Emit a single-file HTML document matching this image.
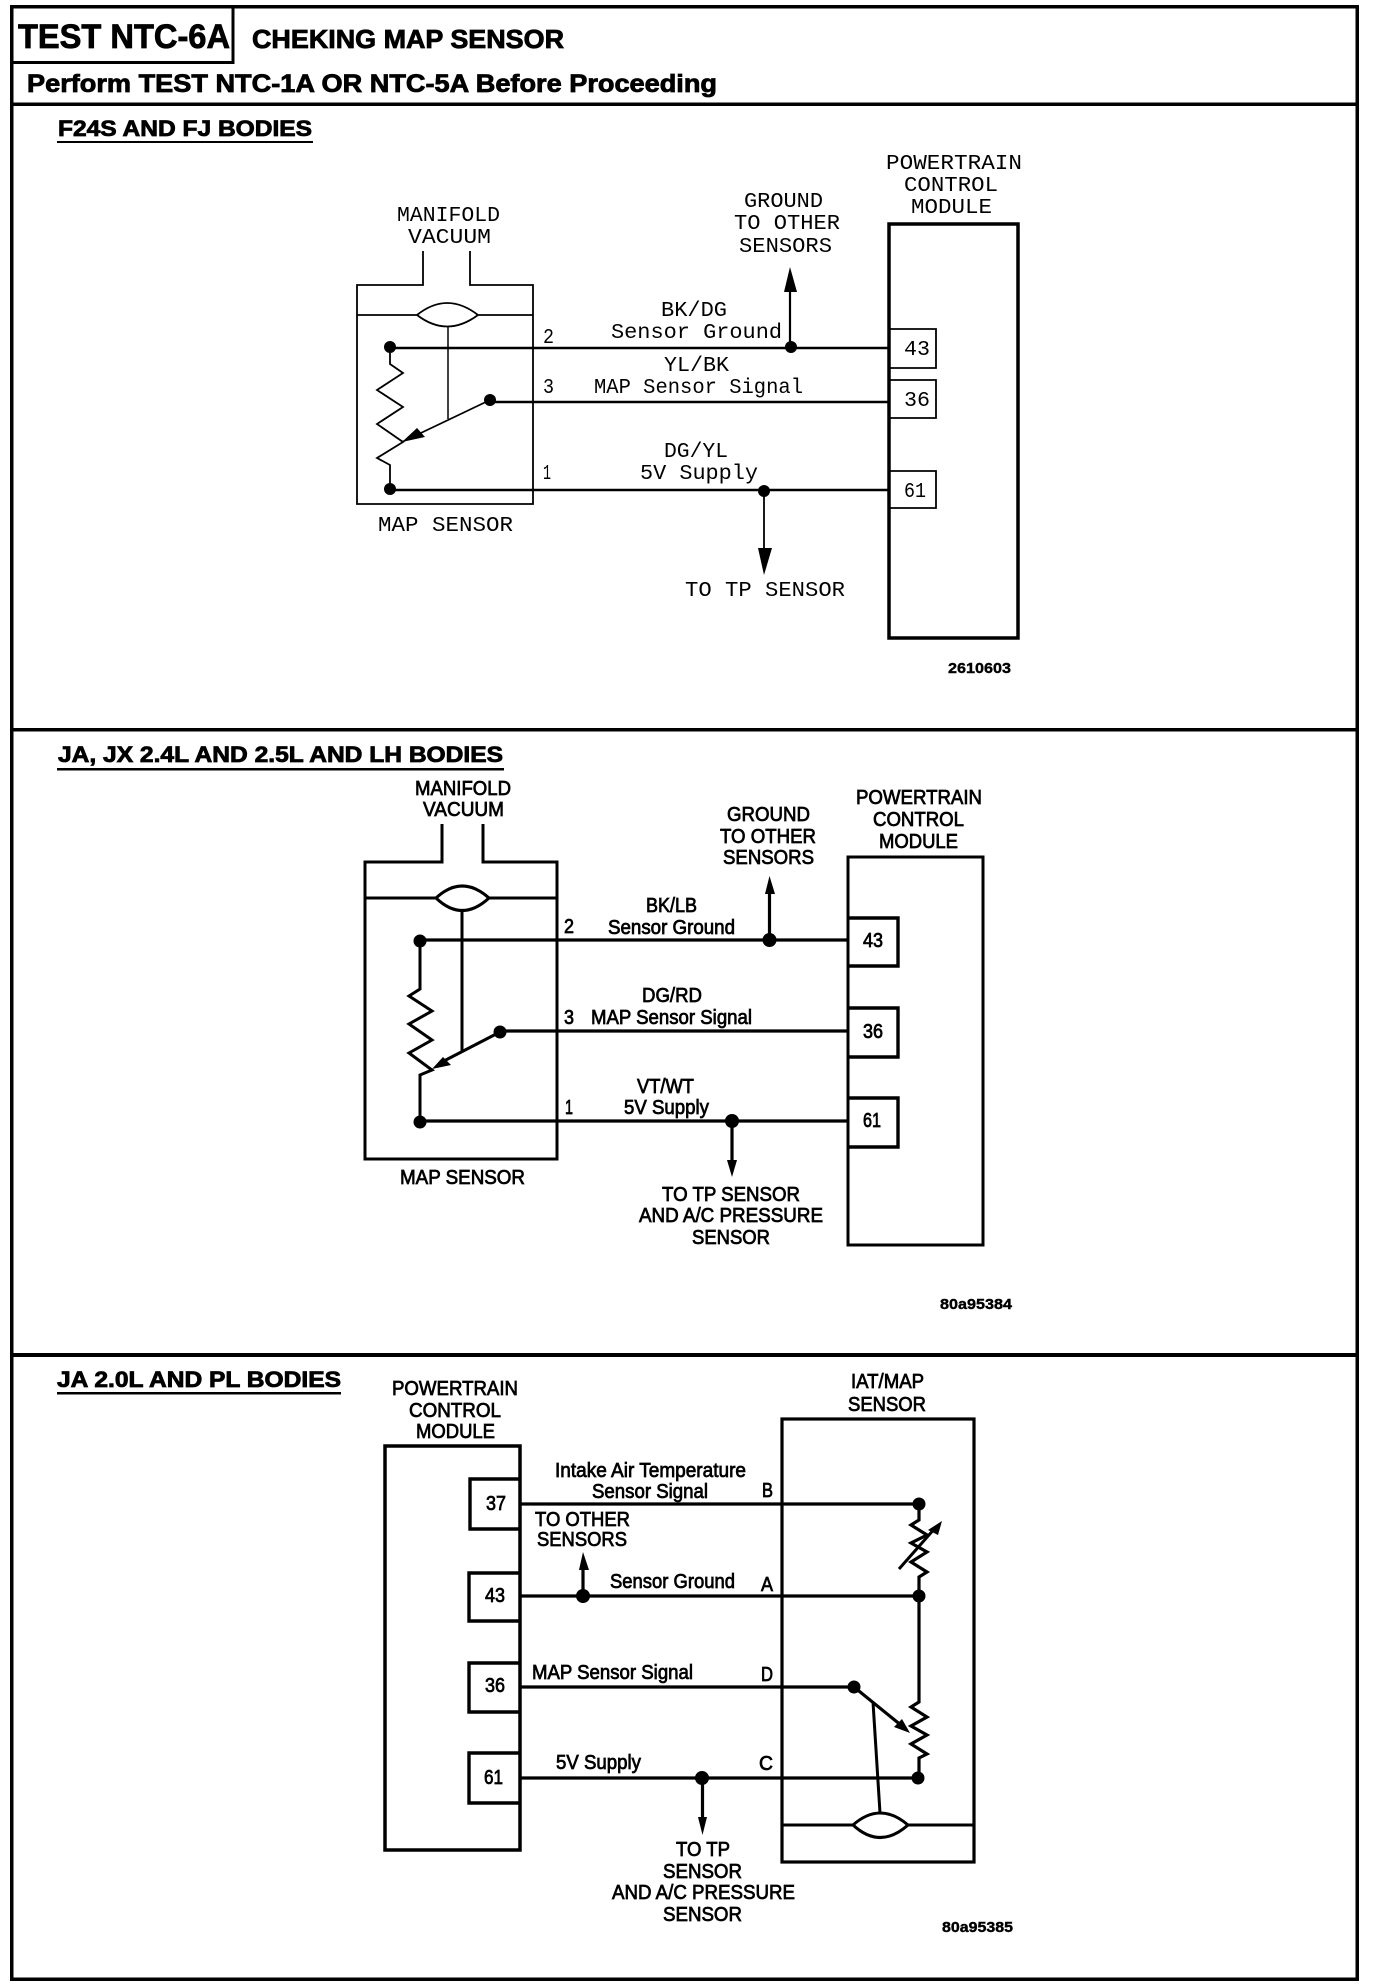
<!DOCTYPE html>
<html><head><meta charset="utf-8"><title>TEST NTC-6A</title>
<style>
html,body{margin:0;padding:0;background:#fff}
svg{display:block}
text{fill:#000}
.b{font-family:"Liberation Sans",sans-serif;font-weight:bold;stroke:#000;stroke-width:.8px}
.m{font-family:"Liberation Mono",monospace;font-size:21px}
.s{font-family:"Liberation Sans",sans-serif;font-size:20px;stroke:#000;stroke-width:.75px}
.n{font-family:"Liberation Sans",sans-serif;font-weight:bold;font-size:15px;stroke:#000;stroke-width:.4px}
.l{fill:none;stroke:#000;stroke-linejoin:miter}
</style></head><body>
<svg xmlns="http://www.w3.org/2000/svg" width="1376" height="1988" viewBox="0 0 1376 1988">
<rect width="1376" height="1988" fill="#fff"/>

<!-- frame -->
<g class="l" shape-rendering="crispEdges">
<rect x="11.5" y="6.5" width="1345.5" height="1972.5" stroke-width="3.5"/>
<path d="M233 7V62.5H11" stroke-width="3"/>
<path d="M11 104H1357" stroke-width="3.5"/>
<path d="M11 729.5H1357" stroke-width="3.5"/>
<path d="M11 1355H1357" stroke-width="4"/>
<path d="M57 142H313" stroke-width="2"/>
<path d="M57 769H504" stroke-width="2.5"/>
<path d="M57 1393H341" stroke-width="2.5"/>
</g>

<text class="b" x="18" y="48" font-size="34" textLength="212" lengthAdjust="spacingAndGlyphs">TEST NTC-6A</text>
<text class="b" x="252" y="48" font-size="26" textLength="312" lengthAdjust="spacingAndGlyphs">CHEKING MAP SENSOR</text>
<text class="b" x="27" y="92" font-size="25" textLength="690" lengthAdjust="spacingAndGlyphs">Perform TEST NTC-1A OR NTC-5A Before Proceeding</text>
<text class="b" x="58" y="136" font-size="22" textLength="254" lengthAdjust="spacingAndGlyphs">F24S AND FJ BODIES</text>
<text class="b" x="58" y="762" font-size="22" textLength="445" lengthAdjust="spacingAndGlyphs">JA, JX 2.4L AND 2.5L AND LH BODIES</text>
<text class="b" x="57" y="1387" font-size="22" textLength="284" lengthAdjust="spacingAndGlyphs">JA 2.0L AND PL BODIES</text>

<!-- SECTION 1 -->
<g class="l">
<path d="M423 251V285H357V504H533V285H470V251" stroke-width="1.8"/>
<path d="M357 315H417Q447 291 478 315H533M417 315Q447 338 478 315" stroke-width="1.8"/>
<path d="M448 326V419" stroke-width="1.5"/>
<path d="M390 348H889M490 402H889M390 490H889" stroke-width="2.4"/>
<path d="M390 347V364L403 373L377 390L403 407L377 424L403 442L377 458L390 465V489" stroke-width="1.8"/>
<path d="M490 400L402 442" stroke-width="1.8"/>
<path d="M790 347V285" stroke-width="2.2"/>
<path d="M764 491V555" stroke-width="1.8"/>
<rect x="889" y="224" width="129" height="414" stroke-width="3.5"/>
<path d="M889 329H936V368H889M889 380H936V418H889M889 471H936V508H889" stroke-width="1.8"/>
</g>
<path d="M402 442L417 428L425 437Z"/>
<path d="M790 267L797 292H784Z"/>
<path d="M764 575L772 548H758Z"/>
<circle cx="390" cy="347" r="6"/><circle cx="490" cy="400" r="6"/><circle cx="390" cy="489" r="6"/><circle cx="791" cy="347" r="6"/><circle cx="764" cy="491" r="6"/>

<g class="m">
<text x="397" y="221" textLength="103" lengthAdjust="spacingAndGlyphs">MANIFOLD</text>
<text x="408" y="243" textLength="83" lengthAdjust="spacingAndGlyphs">VACUUM</text>
<text x="744" y="207" textLength="79" lengthAdjust="spacingAndGlyphs">GROUND</text>
<text x="734" y="229" textLength="106" lengthAdjust="spacingAndGlyphs">TO OTHER</text>
<text x="739" y="252" textLength="93" lengthAdjust="spacingAndGlyphs">SENSORS</text>
<text x="886" y="169" textLength="136" lengthAdjust="spacingAndGlyphs">POWERTRAIN</text>
<text x="904" y="191" textLength="94" lengthAdjust="spacingAndGlyphs">CONTROL</text>
<text x="911" y="213" textLength="81" lengthAdjust="spacingAndGlyphs">MODULE</text>
<text x="661" y="316" textLength="66" lengthAdjust="spacingAndGlyphs">BK/DG</text>
<text x="611" y="338" textLength="171" lengthAdjust="spacingAndGlyphs">Sensor Ground</text>
<text x="543" y="343" textLength="11" lengthAdjust="spacingAndGlyphs">2</text>
<text x="664" y="371" textLength="65" lengthAdjust="spacingAndGlyphs">YL/BK</text>
<text x="594" y="393" textLength="209" lengthAdjust="spacingAndGlyphs">MAP Sensor Signal</text>
<text x="543" y="393" textLength="11" lengthAdjust="spacingAndGlyphs">3</text>
<text x="664" y="457" textLength="64" lengthAdjust="spacingAndGlyphs">DG/YL</text>
<text x="640" y="479" textLength="118" lengthAdjust="spacingAndGlyphs">5V Supply</text>
<text x="543" y="479" textLength="8" lengthAdjust="spacingAndGlyphs">1</text>
<text x="378" y="531" textLength="135" lengthAdjust="spacingAndGlyphs">MAP SENSOR</text>
<text x="685" y="596" textLength="160" lengthAdjust="spacingAndGlyphs">TO TP SENSOR</text>
<text x="904" y="355" textLength="26" lengthAdjust="spacingAndGlyphs">43</text>
<text x="904" y="406" textLength="26" lengthAdjust="spacingAndGlyphs">36</text>
<text x="904" y="497" textLength="22" lengthAdjust="spacingAndGlyphs">61</text>
</g>
<text class="n" x="948" y="673" textLength="63" lengthAdjust="spacingAndGlyphs">2610603</text>

<!-- SECTION 2 -->
<g class="l">
<path d="M442 824V862H365V1159H557V862H483V824" stroke-width="3"/>
<path d="M365 898H436Q462 874 489 898H557M436 898Q462 923 489 898" stroke-width="3"/>
<path d="M462 911V1051" stroke-width="3"/>
<path d="M420 940H848M500 1031H848M420 1121H848" stroke-width="3.2"/>
<path d="M420 941V989L409 996L432 1011L409 1024L432 1040L409 1053L432 1070L420 1075V1121" stroke-width="3"/>
<path d="M500 1032L440 1063" stroke-width="3"/>
<path d="M769.5 940V890M732 1121V1162" stroke-width="3.2"/>
<rect x="848" y="857" width="135" height="388" stroke-width="3"/>
<path d="M848 918H898V966H848M848 1008H898V1057H848M848 1098H898V1147H848" stroke-width="3.4"/>
</g>
<path d="M432 1069L443 1057L451 1065Z"/>
<path d="M769.5 876L775 894H765Z"/>
<path d="M732 1177L737 1160H727Z"/>
<circle cx="420" cy="941" r="6.5"/><circle cx="500" cy="1032" r="6.5"/><circle cx="420" cy="1122" r="6.5"/><circle cx="769.5" cy="940" r="7"/><circle cx="732" cy="1121" r="7"/>

<g class="s">
<text x="415" y="795" textLength="96" lengthAdjust="spacingAndGlyphs">MANIFOLD</text>
<text x="423" y="816" textLength="81" lengthAdjust="spacingAndGlyphs">VACUUM</text>
<text x="727" y="821" textLength="83" lengthAdjust="spacingAndGlyphs">GROUND</text>
<text x="720" y="843" textLength="96" lengthAdjust="spacingAndGlyphs">TO OTHER</text>
<text x="723" y="864" textLength="91" lengthAdjust="spacingAndGlyphs">SENSORS</text>
<text x="856" y="804" textLength="126" lengthAdjust="spacingAndGlyphs">POWERTRAIN</text>
<text x="873" y="826" textLength="91" lengthAdjust="spacingAndGlyphs">CONTROL</text>
<text x="879" y="848" textLength="79" lengthAdjust="spacingAndGlyphs">MODULE</text>
<text x="646" y="912" textLength="51" lengthAdjust="spacingAndGlyphs">BK/LB</text>
<text x="608" y="934" textLength="127" lengthAdjust="spacingAndGlyphs">Sensor Ground</text>
<text x="564" y="933" textLength="10" lengthAdjust="spacingAndGlyphs">2</text>
<text x="642" y="1002" textLength="60" lengthAdjust="spacingAndGlyphs">DG/RD</text>
<text x="591" y="1024" textLength="161" lengthAdjust="spacingAndGlyphs">MAP Sensor Signal</text>
<text x="564" y="1024" textLength="10" lengthAdjust="spacingAndGlyphs">3</text>
<text x="637" y="1093" textLength="57" lengthAdjust="spacingAndGlyphs">VT/WT</text>
<text x="624" y="1114" textLength="85" lengthAdjust="spacingAndGlyphs">5V Supply</text>
<text x="565" y="1114" textLength="8" lengthAdjust="spacingAndGlyphs">1</text>
<text x="400" y="1184" textLength="125" lengthAdjust="spacingAndGlyphs">MAP SENSOR</text>
<text x="662" y="1201" textLength="138" lengthAdjust="spacingAndGlyphs">TO TP SENSOR</text>
<text x="639" y="1222" textLength="184" lengthAdjust="spacingAndGlyphs">AND A/C PRESSURE</text>
<text x="692" y="1244" textLength="78" lengthAdjust="spacingAndGlyphs">SENSOR</text>
<text x="863" y="947" textLength="20" lengthAdjust="spacingAndGlyphs">43</text>
<text x="863" y="1038" textLength="20" lengthAdjust="spacingAndGlyphs">36</text>
<text x="863" y="1127" textLength="18" lengthAdjust="spacingAndGlyphs">61</text>
</g>
<text class="n" x="940" y="1309" textLength="72" lengthAdjust="spacingAndGlyphs">80a95384</text>

<!-- SECTION 3 -->
<g class="l">
<rect x="385" y="1446" width="135" height="404" stroke-width="3.5"/>
<path d="M520 1479H470V1529H520M520 1573H469V1621H520M520 1663H469V1712H520M520 1753H469V1803H520" stroke-width="3.4"/>
<rect x="782" y="1419" width="192" height="443" stroke-width="3.2"/>
<path d="M520 1504H919M520 1596H919M520 1687H854M520 1778H918" stroke-width="3.2"/>
<path d="M919 1504V1520L911 1525L927 1535L911 1543L927 1552L911 1562L927 1572L919 1577V1596V1702L911 1707L927 1717L911 1726L927 1735L911 1744L927 1754L919 1758V1778" stroke-width="3.2"/>
<path d="M899 1569L936 1527" stroke-width="3"/>
<path d="M854 1687L902 1726" stroke-width="3.2"/>
<path d="M873 1702L880 1813" stroke-width="3"/>
<path d="M782 1825H853Q880 1801 908 1825H974M853 1825Q880 1850 908 1825" stroke-width="3"/>
<path d="M583 1596V1568M702.5 1778V1820" stroke-width="3.2"/>
</g>
<path d="M942 1521L938 1535L928 1530Z"/>
<path d="M910 1733L902 1719L894 1727Z"/>
<path d="M583 1552L589 1570H579Z"/>
<path d="M702.5 1835L707 1817H698Z"/>
<circle cx="919" cy="1504" r="6.5"/><circle cx="919" cy="1596" r="6.5"/><circle cx="854" cy="1687" r="6.5"/><circle cx="918" cy="1778" r="6.5"/><circle cx="583" cy="1596" r="7"/><circle cx="702" cy="1778" r="7"/>

<g class="s">
<text x="392" y="1395" textLength="126" lengthAdjust="spacingAndGlyphs">POWERTRAIN</text>
<text x="409" y="1417" textLength="92" lengthAdjust="spacingAndGlyphs">CONTROL</text>
<text x="416" y="1438" textLength="79" lengthAdjust="spacingAndGlyphs">MODULE</text>
<text x="851" y="1388" textLength="73" lengthAdjust="spacingAndGlyphs">IAT/MAP</text>
<text x="848" y="1411" textLength="78" lengthAdjust="spacingAndGlyphs">SENSOR</text>
<text x="555" y="1477" textLength="191" lengthAdjust="spacingAndGlyphs">Intake Air Temperature</text>
<text x="592" y="1498" textLength="116" lengthAdjust="spacingAndGlyphs">Sensor Signal</text>
<text x="762" y="1497" textLength="11" lengthAdjust="spacingAndGlyphs">B</text>
<text x="535" y="1526" textLength="95" lengthAdjust="spacingAndGlyphs">TO OTHER</text>
<text x="537" y="1546" textLength="90" lengthAdjust="spacingAndGlyphs">SENSORS</text>
<text x="610" y="1588" textLength="125" lengthAdjust="spacingAndGlyphs">Sensor Ground</text>
<text x="761" y="1591" textLength="12" lengthAdjust="spacingAndGlyphs">A</text>
<text x="532" y="1679" textLength="161" lengthAdjust="spacingAndGlyphs">MAP Sensor Signal</text>
<text x="761" y="1681" textLength="12" lengthAdjust="spacingAndGlyphs">D</text>
<text x="556" y="1769" textLength="85" lengthAdjust="spacingAndGlyphs">5V Supply</text>
<text x="759" y="1770" textLength="14" lengthAdjust="spacingAndGlyphs">C</text>
<text x="676" y="1856" textLength="54" lengthAdjust="spacingAndGlyphs">TO TP</text>
<text x="663" y="1878" textLength="79" lengthAdjust="spacingAndGlyphs">SENSOR</text>
<text x="612" y="1899" textLength="183" lengthAdjust="spacingAndGlyphs">AND A/C PRESSURE</text>
<text x="663" y="1921" textLength="79" lengthAdjust="spacingAndGlyphs">SENSOR</text>
<text x="486" y="1510" textLength="20" lengthAdjust="spacingAndGlyphs">37</text>
<text x="485" y="1602" textLength="20" lengthAdjust="spacingAndGlyphs">43</text>
<text x="485" y="1692" textLength="20" lengthAdjust="spacingAndGlyphs">36</text>
<text x="484" y="1784" textLength="19" lengthAdjust="spacingAndGlyphs">61</text>
</g>
<text class="n" x="942" y="1932" textLength="71" lengthAdjust="spacingAndGlyphs">80a95385</text>
</svg>
</body></html>
